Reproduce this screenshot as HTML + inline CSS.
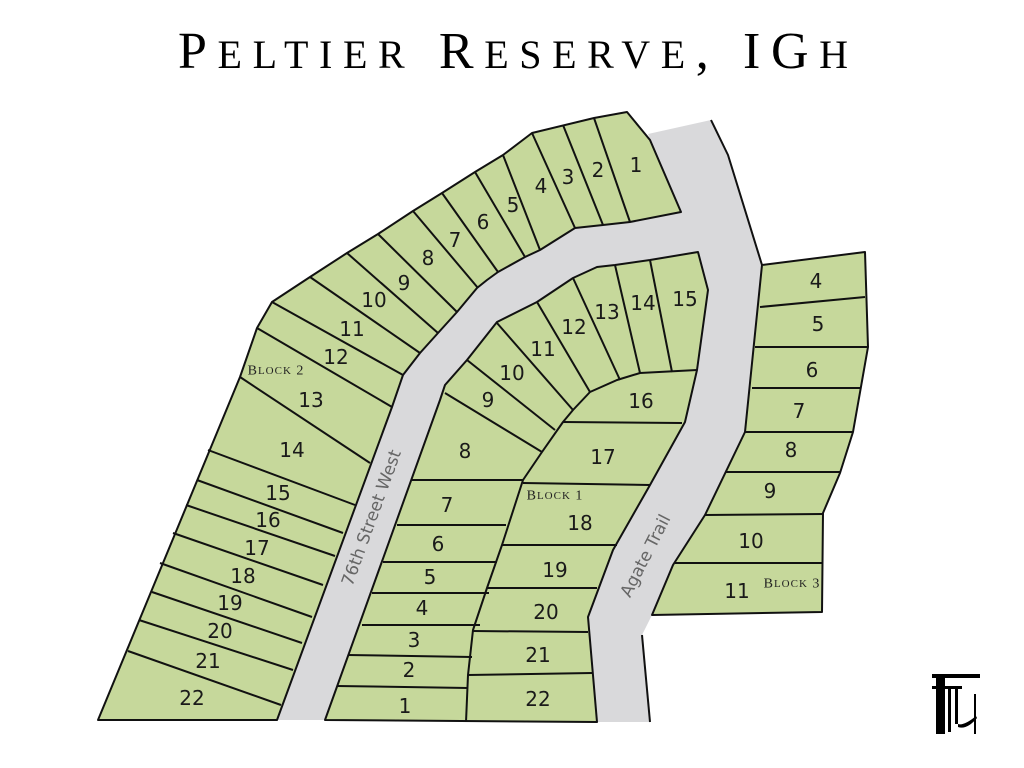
<!DOCTYPE html>
<html><head><meta charset="utf-8"><style>
html,body{margin:0;padding:0;background:#fff;}
svg{display:block;}
.t{font-family:"DejaVu Sans","Liberation Sans",sans-serif;font-size:20px;fill:#1a1a1a;text-anchor:middle;dominant-baseline:central;}
.b{font-family:"Liberation Serif",serif;font-size:14px;fill:#222;text-anchor:middle;dominant-baseline:central;letter-spacing:1px;}
.r{font-family:"DejaVu Sans","Liberation Sans",sans-serif;font-size:17px;fill:#666;text-anchor:middle;dominant-baseline:central;}
</style></head><body>
<svg width="1024" height="768" viewBox="0 0 1024 768">
<text x="178" y="68" textLength="670" lengthAdjust="spacing" font-family="Liberation Serif, serif" font-size="52" fill="#000">P<tspan font-size="40">ELTIER</tspan> R<tspan font-size="40">ESERVE</tspan>, IG<tspan font-size="40">H</tspan></text>
<!-- road -->
<polygon fill="#d9d9db" points="648,134 711,120 728,155 762,265 745,432 705,515 673,565 652,615 642,635 650,722 597,722 588,617 613,550 650,485 685,422 697,370 708,290 698,252 650,260 615,265 597,267 573,278 537,302 497,322 467,360 445,385 440,400 325,720 277,720 392,407 403,375 420,353 438,333 457,312 477,288 487,280 498,272 525,257 540,250 575,228 603,225 630,222 681,212"/>
<g stroke="#111" stroke-width="2" stroke-linejoin="round" fill="#c6d89b">
<polygon points="98,720 240,377 257,328 272,302 310,277 347,253 378,234 413,211 442,193 475,172 503,155 532,133 594,118 627,112 650,140 681,212 630,222 603,225 575,228 540,250 525,257 498,272 487,280 477,288 457,312 438,333 420,353 403,375 392,407 277,720"/>
<polygon points="325,720 440,400 445,385 467,360 497,322 537,302 573,278 597,267 615,265 650,260 698,252 708,290 697,370 685,422 650,485 613,550 588,617 597,722"/>
<polygon points="762,265 865,252 868,347 853,432 840,473 823,513 822,612 652,615 673,565 705,515 745,432"/>
</g>
<g stroke="#111" stroke-width="2" fill="none" stroke-linejoin="round">
<polyline points="711,120 728,155 762,265"/>
<polyline points="642,635 650,722"/>
<line x1="594" y1="118" x2="630" y2="222"/>
<line x1="563" y1="125" x2="603" y2="225"/>
<line x1="532" y1="133" x2="575" y2="228"/>
<line x1="503" y1="155" x2="540" y2="250"/>
<line x1="475" y1="172" x2="525" y2="257"/>
<line x1="442" y1="193" x2="498" y2="272"/>
<line x1="413" y1="211" x2="478" y2="288"/>
<line x1="378" y1="234" x2="457" y2="312"/>
<line x1="347" y1="253" x2="438" y2="333"/>
<line x1="310" y1="277" x2="420" y2="353"/>
<line x1="272" y1="302" x2="403" y2="375"/>
<line x1="257" y1="328" x2="392" y2="407"/>
<line x1="240" y1="377" x2="370" y2="463"/>
<line x1="208" y1="450" x2="355" y2="505"/>
<line x1="197" y1="480" x2="343" y2="533"/>
<line x1="186" y1="505" x2="335" y2="556"/>
<line x1="173" y1="533" x2="323" y2="585"/>
<line x1="160" y1="563" x2="312" y2="617"/>
<line x1="152" y1="592" x2="302" y2="643"/>
<line x1="139" y1="620" x2="293" y2="670"/>
<line x1="128" y1="651" x2="281" y2="705"/>
<polyline points="466,722 468,675 473,630 487,588 502,545 523,480 542,452 563,422 573,410 590,392 617,380 640,373 697,370"/>
<line x1="412" y1="480" x2="523" y2="480"/>
<line x1="397" y1="525" x2="506" y2="525"/>
<line x1="383" y1="562" x2="497" y2="562"/>
<line x1="372" y1="593" x2="489" y2="593"/>
<line x1="362" y1="625" x2="480" y2="625"/>
<line x1="348" y1="655" x2="472" y2="657"/>
<line x1="337" y1="686" x2="468" y2="688"/>
<line x1="523" y1="483" x2="650" y2="485"/>
<line x1="502" y1="545" x2="617" y2="545"/>
<line x1="487" y1="588" x2="597" y2="588"/>
<line x1="473" y1="631" x2="588" y2="632"/>
<line x1="468" y1="675" x2="592" y2="673"/>
<line x1="563" y1="422" x2="682" y2="423"/>
<line x1="445" y1="393" x2="542" y2="452"/>
<line x1="467" y1="360" x2="555" y2="430"/>
<line x1="497" y1="323" x2="573" y2="410"/>
<line x1="537" y1="302" x2="590" y2="392"/>
<line x1="573" y1="278" x2="620" y2="380"/>
<line x1="615" y1="265" x2="640" y2="373"/>
<line x1="650" y1="260" x2="672" y2="372"/>
<line x1="760" y1="307" x2="865" y2="297"/>
<line x1="755" y1="347" x2="867" y2="347"/>
<line x1="752" y1="388" x2="861" y2="388"/>
<line x1="745" y1="432" x2="853" y2="432"/>
<line x1="725" y1="472" x2="840" y2="472"/>
<line x1="705" y1="515" x2="823" y2="514"/>
<line x1="675" y1="563" x2="822" y2="563"/>
</g>
<g class="t">
<text x="636" y="165">1</text><text x="598" y="170">2</text><text x="568" y="177">3</text><text x="541" y="186">4</text><text x="513" y="205">5</text><text x="483" y="222">6</text><text x="455" y="240">7</text><text x="428" y="258">8</text><text x="404" y="283">9</text><text x="374" y="300">10</text><text x="352" y="329">11</text><text x="336" y="357">12</text><text x="311" y="400">13</text><text x="292" y="450">14</text><text x="278" y="493">15</text><text x="268" y="520">16</text><text x="257" y="548">17</text><text x="243" y="576">18</text><text x="230" y="603">19</text><text x="220" y="631">20</text><text x="208" y="661">21</text><text x="192" y="698">22</text>
<text x="405" y="706">1</text><text x="409" y="670">2</text><text x="414" y="640">3</text><text x="422" y="608">4</text><text x="430" y="577">5</text><text x="438" y="544">6</text><text x="447" y="505">7</text><text x="465" y="451">8</text><text x="488" y="400">9</text><text x="512" y="373">10</text><text x="543" y="349">11</text><text x="574" y="327">12</text><text x="607" y="312">13</text><text x="643" y="303">14</text><text x="685" y="299">15</text><text x="641" y="401">16</text><text x="603" y="457">17</text><text x="580" y="523">18</text><text x="555" y="570">19</text><text x="546" y="612">20</text><text x="538" y="655">21</text><text x="538" y="699">22</text>
<text x="816" y="281">4</text><text x="818" y="324">5</text><text x="812" y="370">6</text><text x="799" y="411">7</text><text x="791" y="450">8</text><text x="770" y="491">9</text><text x="751" y="541">10</text><text x="737" y="591">11</text>
</g>
<text class="b" x="276" y="371">B<tspan font-size="11">LOCK</tspan> 2</text>
<text class="b" x="555" y="496">B<tspan font-size="11">LOCK</tspan> 1</text>
<text class="b" x="792" y="584">B<tspan font-size="11">LOCK</tspan> 3</text>
<text class="r" transform="translate(372,518) rotate(-70)">76th Street West</text>
<text class="r" transform="translate(646,556) rotate(-63)">Agate Trail</text>
<g fill="#000">
<rect x="932" y="674" width="48" height="4"/>
<rect x="936" y="674" width="9" height="60"/>
<rect x="932" y="686" width="30" height="3"/>
<rect x="948" y="686" width="3" height="46"/>
<rect x="955" y="688" width="3" height="36"/>
<rect x="974" y="694" width="2" height="40"/>
<path d="M958,724 q6,2 18,-8 l1,2 q-10,12 -19,9z"/>
</g>
</svg>
</body></html>
